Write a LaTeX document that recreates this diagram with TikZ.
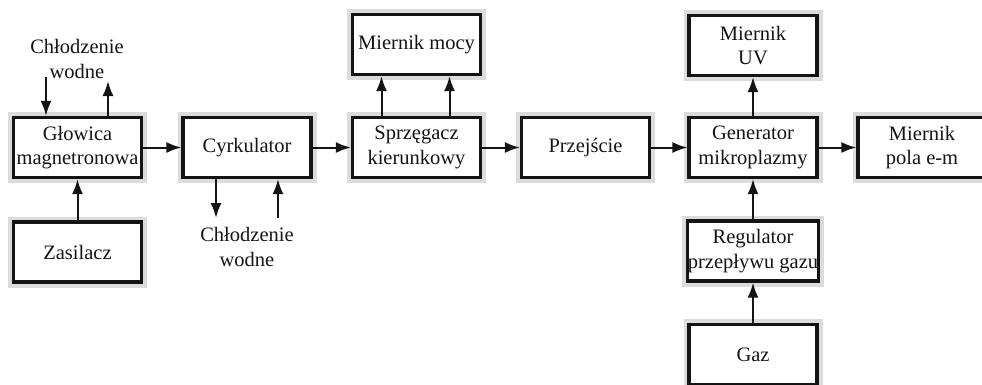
\documentclass[tikz,border=0pt]{standalone}
\usepackage{fontspec}
\setmainfont{Liberation Serif}
\usetikzlibrary{arrows.meta}
\definecolor{ink}{HTML}{141414}
\definecolor{halo}{HTML}{DCDCDC}
\tikzset{
  blk/.style={draw=ink, line width=3.2pt, fill=white,
    preaction={draw=halo, line width=11pt},
    minimum width=128pt, minimum height=60pt, inner sep=0pt,
    align=center, text=ink, font=\fontsize{20.5}{24.5}\selectfont},
  lbl/.style={align=center, text=ink, inner sep=0pt, font=\fontsize{20.5}{24.5}\selectfont},
  arr/.style={draw=ink, line width=2pt, -{Latex[length=15pt,width=11pt]}}
}
\begin{document}
\begin{tikzpicture}[x=1pt,y=-1pt]
\useasboundingbox (0,0) rectangle (982,384);
\clip (0,0) rectangle (982,384);
\fill[white] (0,0) rectangle (982,384);
\node[blk] (glo) at (77.5,147.5) {Głowica\\magnetronowa};
\node[blk] (cyr) at (247,147.5) {Cyrkulator};
\node[blk] (spr) at (416.5,147.5) {Sprzęgacz\\kierunkowy};
\node[blk] (prz) at (585.5,147.5) {Przejście};
\node[blk] (gen) at (753,147.5) {Generator\\mikroplazmy};
\node[blk] (pol) at (922,147.5) {Miernik\\pola e-m};
\node[blk] (moc) at (416.5,44.5) {Miernik mocy};
\node[blk] (uv) at (753,45.5) {Miernik\\UV};
\node[blk] (zas) at (77.5,252) {Zasilacz};
\node[blk] (reg) at (753,251) {Regulator\\przepływu gazu};
\node[blk] (gaz) at (753,354.5) {Gaz};
\node[lbl] (chl1) at (77,59) {Chłodzenie\\wodne};
\node[lbl] (chl2) at (247,247) {Chłodzenie\\wodne};
\coordinate (a1) at (46,77);
\coordinate (a2) at (108,81);
\coordinate (b1) at (216,218);
\coordinate (b2) at (278,218);
\draw[arr] (glo) -- (cyr);
\draw[arr] (cyr) -- (spr);
\draw[arr] (spr) -- (prz);
\draw[arr] (prz) -- (gen);
\draw[arr] (gen) -- (pol);
\draw[arr] (zas) -- (glo);
\draw[arr] (gen) -- (uv);
\draw[arr] (reg) -- (gen);
\draw[arr] (gaz) -- (reg);
\draw[arr] ([xshift=-35pt]spr.north) -- ([xshift=-35pt]moc.south);
\draw[arr] ([xshift=33pt]spr.north) -- ([xshift=33pt]moc.south);
\draw[arr] (a1) -- (a1 |- glo.north);
\draw[arr] (a2 |- glo.north) -- (a2);
\draw[arr] (b1 |- cyr.south) -- (b1);
\draw[arr] (b2) -- (b2 |- cyr.south);
\end{tikzpicture}
\end{document}
